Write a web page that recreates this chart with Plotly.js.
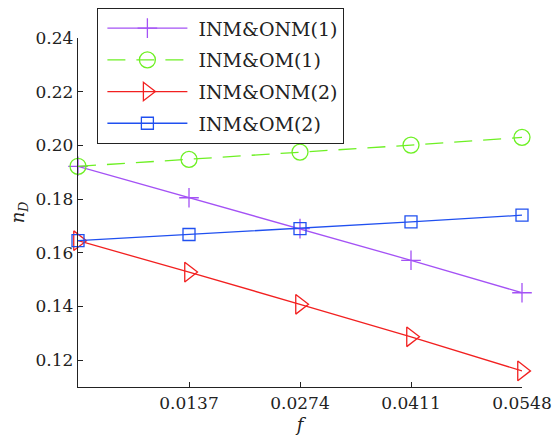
<!DOCTYPE html>
<html><head><meta charset="utf-8">
<script src="https://cdn.plot.ly/plotly-3.0.1.min.js"></script>
<style>html,body{margin:0;padding:0;background:#fff}#c{width:552px;height:441px}</style>
</head><body><div id="c"></div>
<script>
const fVals = [0, 0.0137, 0.0274, 0.0411, 0.0548];
const inmOnm1 = [0.1922, 0.1805, 0.1690, 0.1572, 0.1451];
const inmOm1  = [0.1922, 0.1948, 0.1975, 0.2001, 0.2030];
const inmOnm2 = [0.1645, 0.1528, 0.1408, 0.1287, 0.1160];
const inmOm2  = [0.1645, 0.1668, 0.1690, 0.1715, 0.1740];
const names = ["INM&amp;ONM(1)", "INM&amp;OM(1)", "INM&amp;ONM(2)", "INM&amp;OM(2)"];
const xTicks = [0.0137, 0.0274, 0.0411, 0.0548];
const xTickText = ["0.0137", "0.0274", "0.0411", "0.0548"];
const yTicks = [0.12, 0.14, 0.16, 0.18, 0.20, 0.22, 0.24];
const yTickText = ["0.12", "0.14", "0.16", "0.18", "0.20", "0.22", "0.24"];

const font = "DejaVu Serif";
function tr(y, name, color, sym, size, dash, g) {
  return {x: fVals, y: y, name: name, type: 'scatter', mode: 'lines+markers',
    legendgroup: g, cliponaxis: false,
    line: {color: color, width: 1.3, dash: dash},
    marker: {symbol: sym, size: size, color: color, line: {color: color, width: 1.3}}};
}
const data = [
  tr(inmOnm1, names[0], '#a452f5', 'cross-thin-open', 14, 'solid', 'a'),
  tr(inmOm1, names[1], '#6ef024', 'circle-open', 16, '18px,11px', 'b'),
  tr(inmOnm2, names[2], '#f22020', 'triangle-right-open', 17, 'solid', 'c'),
  tr(inmOm2, names[3], '#2050f0', 'square-open', 12, 'solid', 'd')
];
const layout = {
  width: 552, height: 441,
  margin: {l: 78, r: 30, t: 38, b: 54, autoexpand: false},
  paper_bgcolor: '#fff', plot_bgcolor: '#fff',
  font: {family: font, size: 17, color: '#222'},
  showlegend: true,
  legend: {x: 0.043, y: 1.086, xanchor: 'left', yanchor: 'top',
    bordercolor: '#222', borderwidth: 1.3, bgcolor: '#fff',
    font: {family: font, size: 19, color: '#222'},
    traceorder: 'grouped', tracegroupgap: 4, itemwidth: 90},
  xaxis: {range: [0, 0.0548], tickvals: xTicks, ticktext: xTickText,
    ticks: 'inside', ticklen: 5, tickcolor: '#222', showgrid: false, zeroline: false,
    showline: true, linecolor: '#222', linewidth: 1.3,
    title: {text: '<i>f</i>', font: {family: font, size: 18}, standoff: 6}},
  yaxis: {range: [0.11, 0.24], tickvals: yTicks, ticktext: yTickText,
    ticks: 'inside', ticklen: 5, tickcolor: '#222', showgrid: false, zeroline: false,
    showline: true, linecolor: '#222', linewidth: 1.3,
    title: {text: '<i>n</i><sub><i>D</i></sub>', font: {family: font, size: 18}, standoff: 6}}
};
Plotly.newPlot('c', data, layout, {displayModeBar: false, staticPlot: true}).then(function (gd) {
  // widen legend symbol samples to match the reference style
  gd.querySelectorAll('.legend .traces').forEach(function (t) {
    t.querySelectorAll('.legendlines path').forEach(function (p) { p.setAttribute('d', 'M9,0h80'); });
    t.querySelectorAll('.legendpoints path.scatterpts').forEach(function (p) {
      p.setAttribute('transform', 'translate(49,0)');
    });
  });
});
</script></body></html>
